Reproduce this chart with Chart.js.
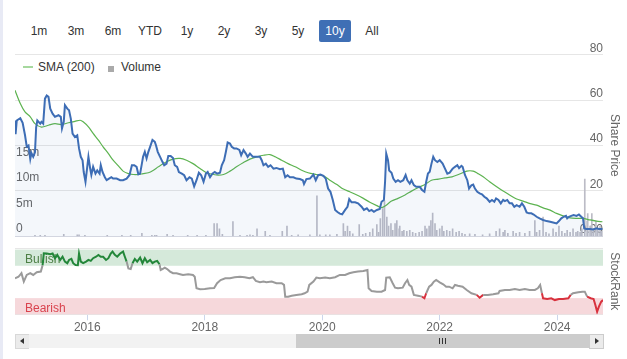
<!DOCTYPE html>
<html><head><meta charset="utf-8">
<script src="https://cdn.jsdelivr.net/npm/chart.js@4.4.1/dist/chart.umd.min.js"></script>
<style>
html,body{margin:0;padding:0;background:#fff;}
body{width:627px;height:359px;position:relative;overflow:hidden;font-family:"Liberation Sans",Arial,sans-serif;}
#strip{position:absolute;left:0;top:0;width:3px;height:359px;background:#e8eaf5;}
.btn{position:absolute;top:20px;width:32px;height:22px;line-height:23px;text-align:center;font-size:12px;color:#333;border-radius:2px;}
.btn.sel{background:#3f6fb5;color:#fff;}
.lg{position:absolute;font-size:12px;color:#333;line-height:14px;top:60px;white-space:nowrap;}
canvas{position:absolute;left:0;}
#c1{top:0;}
#c2{top:240px;}
.sb{position:absolute;}
</style></head>
<body>
<div id="strip"></div>
<div id="buttons"></div>
<div class="sb" style="left:15px;top:334px;width:588px;height:14px;background:#f2f2f2;"></div>
<div class="sb" style="left:296px;top:334px;width:293px;height:14px;background:#cccccc;"></div>
<div class="sb" style="left:439px;top:338px;width:1px;height:6px;background:#333;"></div>
<div class="sb" style="left:442px;top:338px;width:1px;height:6px;background:#333;"></div>
<div class="sb" style="left:445px;top:338px;width:1px;height:6px;background:#333;"></div>
<div class="sb" style="left:15px;top:334px;width:13px;height:13px;background:#ebebeb;border:1px solid #d8d8d8;border-right:none;"></div>
<div class="sb" style="left:20px;top:338px;width:0;height:0;border-top:3px solid transparent;border-bottom:3px solid transparent;border-right:4px solid #333;"></div>
<div class="sb" style="left:589px;top:334px;width:13px;height:13px;background:#ebebeb;border:1px solid #cccccc;"></div>
<div class="sb" style="left:595px;top:338px;width:0;height:0;border-top:3px solid transparent;border-bottom:3px solid transparent;border-left:4px solid #333;"></div>
<div class="sb" style="left:23px;top:66px;width:10px;height:2px;background:#a6d89e;"></div>
<div class="lg" style="left:38px;">SMA (200)</div>
<div class="sb" style="left:108px;top:66px;width:6px;height:6px;background:#aaaaaa;"></div>
<div class="lg" style="left:121px;">Volume</div>
<canvas id="c1" width="627" height="250"></canvas>
<canvas id="c2" width="627" height="119"></canvas>
<script>
// ---------------- DATA ----------------
const rangeButtons = ['1m','3m','6m','YTD','1y','2y','3y','5y','10y','All'];
const selectedButton = '10y';
const xRange = [2014.77, 2024.78];
const xTicks = [2016, 2018, 2020, 2022, 2024];
const priceTicks = [0, 20, 40, 60, 80];
const volumeTicks = [0, 5, 10, 15];   // millions
const rankTicks = [0, 102];
const bandRanges = [[75, 100], [0, 25]];
const bandLabels = ['Bullish', 'Bearish'];

const priceDates = [
2014.77,2014.78,2014.80,2014.86,2014.90,2014.94,2014.97,2015.00,2015.03,2015.05,
2015.08,2015.11,2015.13,2015.15,2015.20,2015.22,2015.25,2015.28,2015.31,2015.34,
2015.37,2015.41,2015.45,2015.51,2015.55,2015.57,2015.60,2015.62,2015.66,2015.69,
2015.72,2015.75,2015.79,2015.83,2015.86,2015.89,2015.92,2015.94,2015.97,2016.00,
2016.02,2016.05,2016.07,2016.10,2016.14,2016.17,2016.21,2016.23,2016.26,2016.30,
2016.33,2016.37,2016.41,2016.44,2016.50,2016.56,2016.61,2016.67,2016.72,2016.76,
2016.80,2016.84,2016.87,2016.90,2016.93,2016.95,2016.98,2017.01,2017.04,2017.07,
2017.11,2017.15,2017.17,2017.20,2017.24,2017.28,2017.31,2017.35,2017.38,2017.42,
2017.46,2017.49,2017.53,2017.56,2017.61,2017.65,2017.69,2017.74,2017.78,2017.82,
2017.86,2017.90,2017.94,2017.98,2018.02,2018.05,2018.09,2018.13,2018.17,2018.21,
2018.26,2018.29,2018.33,2018.36,2018.39,2018.43,2018.46,2018.50,2018.54,2018.59,
2018.62,2018.66,2018.70,2018.73,2018.77,2018.82,2018.89,2018.94,2018.97,2019.00,
2019.04,2019.08,2019.12,2019.17,2019.22,2019.28,2019.33,2019.37,2019.41,2019.45,
2019.51,2019.56,2019.62,2019.67,2019.69,2019.73,2019.79,2019.85,2019.89,2019.93,
2019.97,2020.02,2020.06,2020.10,2020.14,2020.18,2020.22,2020.26,2020.30,2020.34,
2020.39,2020.43,2020.46,2020.50,2020.56,2020.61,2020.67,2020.71,2020.76,2020.80,
2020.84,2020.88,2020.93,2020.98,2021.01,2021.05,2021.07,2021.09,2021.12,2021.14,
2021.18,2021.21,2021.25,2021.29,2021.33,2021.38,2021.42,2021.45,2021.49,2021.52,
2021.56,2021.60,2021.66,2021.70,2021.74,2021.77,2021.80,2021.83,2021.86,2021.89,
2021.92,2021.96,2022.00,2022.05,2022.09,2022.13,2022.17,2022.22,2022.26,2022.30,
2022.33,2022.37,2022.39,2022.43,2022.47,2022.50,2022.54,2022.57,2022.60,2022.64,
2022.68,2022.72,2022.76,2022.80,2022.85,2022.89,2022.93,2022.96,2023.00,2023.04,
2023.08,2023.11,2023.15,2023.19,2023.23,2023.27,2023.31,2023.36,2023.40,2023.44,
2023.48,2023.52,2023.56,2023.60,2023.65,2023.70,2023.76,2023.82,2023.88,2023.93,
2023.99,2024.03,2024.07,2024.11,2024.15,2024.17,2024.20,2024.24,2024.28,2024.33,
2024.37,2024.41,2024.44,2024.46,2024.50,2024.56,2024.61,2024.67,2024.71,2024.77];
const priceValues = [
51,45,51,52,50,44.6,39.5,40,34,36.6,
35,37,48,51,49.6,50.4,49.6,60.6,62,61.4,
56.2,54,52.6,53.3,52.6,47.5,50.4,57.7,56.2,55.5,
51.8,45.2,43.7,44.5,38.7,35,33.5,28.3,24,30.6,
35,29.8,27,30.6,27.6,29,27.6,31.3,28.3,26,
24.7,25.4,26,25.4,25.4,24.7,24.7,25.4,27,31.3,
31.3,30.6,27.3,27.6,32,35,37.2,34.3,37.2,39.4,
42.4,41.6,40.1,37.2,35,32.8,31.3,32,35.4,35.4,
34.5,31.3,30.6,28.3,27.6,26.9,24.7,26,25.4,22,
24.7,28,26.9,24,27.6,28.3,26,27.6,28.3,27.6,
28,31.3,33.5,37.2,41.3,40.8,39.4,38.7,38.7,38,
35.7,38,36.4,35,36.4,35,35,35,33.5,31.3,
32,30.6,31.3,29.8,30.1,29.5,29.8,26,26.9,26,
26,25.4,25.2,24.7,23,25.2,25.4,27.2,24.7,26.9,
27.2,26.6,25.4,21,19.6,16,11.6,10.7,10,9.7,
11.6,13,16.4,15,15,14.5,13,11.6,12.3,11.1,
11.6,10.8,11.6,12,15.2,16,24,36.4,33.5,29,
28,25.4,24,24.7,24,24.7,27,24.7,23.2,24.7,
22.5,21.8,21.8,20.4,19.6,24,27.6,28.4,32,35,
33.5,32.7,33.5,32,29.8,27.6,28,29.8,30.6,31.3,
30,31,30.6,27,24.7,21,22.5,22.8,21,19.6,
18.9,18.5,17.4,16.7,15.2,16,15.2,16.7,16,14.5,
16,15.5,16,14.5,14.5,13,13.7,13,14.5,13,
10.5,10.1,10.1,9.6,8.6,7.9,7.2,6.7,6.4,6.1,
5.7,6.7,7.9,8.6,9,7.9,8.6,9,9.4,9,
9.6,8.6,7.9,3.5,3.2,3.2,3,3.5,3.2,3.2];

const smaDates = [
2014.77,2014.86,2014.94,2015.03,2015.11,2015.22,2015.34,2015.45,2015.56,2015.68,
2015.79,2015.88,2015.93,2016.02,2016.10,2016.19,2016.27,2016.36,2016.44,2016.53,
2016.61,2016.70,2016.78,2016.87,2016.95,2017.04,2017.12,2017.21,2017.35,2017.46,
2017.58,2017.69,2017.80,2017.92,2018.03,2018.15,2018.23,2018.32,2018.43,2018.54,
2018.66,2018.77,2018.89,2019.00,2019.11,2019.20,2019.31,2019.42,2019.54,2019.65,
2019.76,2019.90,2020.02,2020.13,2020.25,2020.36,2020.47,2020.59,2020.70,2020.81,
2020.93,2021.01,2021.09,2021.18,2021.29,2021.41,2021.52,2021.63,2021.75,2021.86,
2021.98,2022.09,2022.21,2022.32,2022.46,2022.57,2022.65,2022.74,2022.85,2022.97,
2023.08,2023.19,2023.31,2023.42,2023.54,2023.65,2023.76,2023.88,2023.99,2024.10,
2024.22,2024.33,2024.44,2024.56,2024.67,2024.77];
const smaValues = [
64.3,58.5,54.8,52.6,49.6,48.1,48.9,49.6,49.2,50,
50.6,51.1,50.4,48.2,45.3,42.3,39.4,36.4,33.5,31,
28.7,27.6,27.2,27.2,27.6,28,29,30.6,32.8,34,
34.3,33.5,32,29.8,28,27.2,26.9,27.2,28.7,30.6,
32.5,34,35,35.7,36,35,33.5,32,30.6,29.1,
28,27.2,26.6,24.7,22.8,20.8,19.6,18.2,16.7,15,
13.5,12.6,13.7,15.5,16.7,18.2,19.9,21.4,22.8,24.7,
25.2,25.7,26.2,27.2,28.7,28.7,27.6,26.2,24,21.8,
19.9,18.2,16.4,15.5,14.4,13.7,12.5,11.5,10.1,9,
8.1,7.9,7.9,7.2,6.7,6.4];

const volumeDates = [
2015.11,2015.20,2015.28,2015.60,2015.83,2015.86,2015.96,2016.34,2016.59,2016.74,
2016.93,2017.10,2017.15,2017.18,2017.36,2017.46,2017.71,2017.87,2018.02,2018.16,
2018.21,2018.25,2018.30,2018.48,2018.60,2018.72,2018.77,2018.82,2018.89,2019.03,
2019.11,2019.32,2019.40,2019.48,2019.59,2019.79,2019.91,2019.96,2020.06,2020.13,
2020.25,2020.36,2020.39,2020.43,2020.47,2020.52,2020.63,2020.69,2020.74,2020.81,
2020.86,2020.93,2020.96,2020.99,2021.03,2021.06,2021.10,2021.13,2021.17,2021.20,
2021.24,2021.27,2021.31,2021.32,2021.36,2021.39,2021.44,2021.49,2021.54,2021.59,
2021.65,2021.70,2021.75,2021.78,2021.82,2021.85,2021.88,2021.92,2021.95,2022.00,
2022.04,2022.07,2022.12,2022.17,2022.22,2022.28,2022.33,2022.38,2022.43,2022.51,
2022.60,2022.73,2022.85,2022.96,2023.02,2023.08,2023.11,2023.16,2023.25,2023.30,
2023.36,2023.45,2023.53,2023.62,2023.65,2023.70,2023.76,2023.81,2023.86,2023.93,
2023.98,2024.03,2024.08,2024.13,2024.17,2024.22,2024.27,2024.32,2024.35,2024.39,
2024.42,2024.47,2024.51,2024.52,2024.56,2024.59,2024.62,2024.66,2024.69,2024.73,
2024.76];
const volumeValues = [   // millions
0.2,0.2,0.2,0.4,0.3,0.3,0.2,0.2,0.2,0.2,
0.6,0.2,0.2,0.2,0.4,0.2,0.2,0.2,0.2,2.5,
2.5,1.5,0.4,2.9,0.2,0.2,0.3,0.2,1.5,1.0,
0.2,1.0,2.0,0.2,0.3,0.3,8.0,0.3,0.3,0.3,
0.4,2.5,1.0,2.0,1.0,0.5,2.3,0.4,0.6,0.8,
1.5,2.3,0.8,3.5,5.5,7.0,3.8,2.0,2.5,1.2,
2.5,3.1,1.5,2.0,1.0,1.2,1.0,1.2,0.8,0.6,
0.8,1.0,2.0,1.5,2.0,3.1,4.6,2.5,1.2,1.5,
2.0,1.0,1.2,1.0,1.5,0.8,1.0,0.6,0.4,0.5,
0.4,0.3,0.5,1.0,1.5,0.8,1.2,0.6,1.0,0.6,
0.8,0.6,1.0,3.1,0.8,1.2,3.8,0.8,0.5,1.5,
0.8,2.0,1.0,0.6,1.2,0.8,1.5,0.8,1.0,0.8,
1.5,11.3,3.0,4.5,2.0,4.5,1.5,3.0,1.5,2.0,
1.0];

const rankDates = [
2014.77,2014.83,2014.88,2014.92,2014.97,2015.03,2015.08,2015.14,2015.21,2015.24,
2015.26,2015.31,2015.37,2015.41,2015.45,2015.49,2015.54,2015.58,2015.62,2015.66,
2015.69,2015.73,2015.76,2015.80,2015.84,2015.86,2015.89,2015.93,2015.98,2016.02,
2016.06,2016.10,2016.15,2016.19,2016.23,2016.27,2016.32,2016.36,2016.40,2016.43,
2016.47,2016.51,2016.56,2016.61,2016.64,2016.67,2016.70,2016.74,2016.77,2016.81,
2016.85,2016.90,2016.94,2016.98,2017.02,2017.07,2017.11,2017.15,2017.19,2017.23,
2017.25,2017.28,2017.32,2017.36,2017.41,2017.46,2017.52,2017.58,2017.63,2017.72,
2017.80,2017.83,2017.86,2017.92,2018.00,2018.09,2018.16,2018.21,2018.27,2018.35,
2018.43,2018.51,2018.60,2018.68,2018.76,2018.82,2018.87,2018.94,2019.00,2019.05,
2019.14,2019.22,2019.31,2019.35,2019.37,2019.42,2019.48,2019.56,2019.65,2019.70,
2019.75,2019.78,2019.85,2019.90,2019.96,2020.05,2020.13,2020.22,2020.30,2020.39,
2020.46,2020.53,2020.61,2020.70,2020.77,2020.79,2020.84,2020.93,2021.01,2021.07,
2021.09,2021.15,2021.20,2021.24,2021.29,2021.37,2021.41,2021.45,2021.48,2021.52,
2021.56,2021.63,2021.70,2021.74,2021.77,2021.82,2021.86,2021.90,2021.94,2022.00,
2022.06,2022.11,2022.16,2022.22,2022.26,2022.31,2022.39,2022.46,2022.54,2022.63,
2022.68,2022.74,2022.82,2022.91,2023.00,2023.02,2023.11,2023.19,2023.28,2023.36,
2023.45,2023.53,2023.62,2023.67,2023.71,2023.74,2023.76,2023.83,2023.90,2023.96,
2024.03,2024.10,2024.19,2024.23,2024.27,2024.36,2024.43,2024.47,2024.51,2024.57,
2024.62,2024.65,2024.68,2024.71,2024.75,2024.78];
const rankValues = [
55.7,58,63.5,50.5,60.8,63.5,60.8,65,66,76,
94.4,94,93,94,86.7,91.8,84,89,81.5,79,
84,85.6,79,76.3,76,94,81.5,79,81.5,84,
82.5,86.7,89,91.8,89,89,84,86.7,94,96.9,
91.8,89,94,96.9,89,81.5,71,70,79,85.6,
81.5,87.6,79,86.7,80.5,84,79,81.5,82.5,77.4,
68.6,70,72,70,66,63.5,63.5,62,60.8,62,
60.8,58,40.2,38.7,39,40.2,40.7,48,53,55.7,
55.7,57.3,58,57.3,55.7,57.3,51.5,49.5,50.5,49.5,
50.5,48,48,45.4,27.3,27.3,28.8,29.9,31,32.5,
35,45.4,50.5,56.7,55.7,56.7,55.7,57.3,60.8,60.8,
63.5,65,66,67,68.6,40.2,36,35,35,37.6,
56.7,57.3,48,41.2,40.2,41.2,48,53,45.4,42.7,
30,28.8,27.3,24.8,32.5,42.7,45.4,50.5,53,49.5,
46.4,42.7,42.7,40.2,45.4,44,42.7,37.6,32.5,30,
25.7,30,30,31,32.5,36,37.6,37.6,39.2,37.6,
39.2,37.6,37.6,40.2,45.4,32.5,24.8,23.7,24.8,22,
23.7,23.7,24.8,30,32.5,34,35,35,27.3,24.8,
23.7,14.4,4,11.8,19.5,22];

// ---------------- STYLE ----------------
const FONT = '"Liberation Sans", Arial, sans-serif';
Chart.defaults.font.family = FONT;
const axisColor = '#666666';
const gridColor = '#e6e6e6';
const bandColors = ['#d5e9da', '#f6d8db'];
const bandTextColors = ['#4d7f45', '#d9434e'];
const rankGreen = '#23873a', rankGray = '#9a9a9a', rankRed = '#d8313d';

// buttons
const bwrap = document.getElementById('buttons');
rangeButtons.forEach((t, i) => {
  const d = document.createElement('div');
  d.className = 'btn' + (t === selectedButton ? ' sel' : '');
  d.style.left = (23 + 37 * i) + 'px';
  d.textContent = t;
  bwrap.appendChild(d);
});

const pts = (xs, ys) => xs.map((x, i) => ({x: x, y: ys[i]}));
const fixTicks = arr => (s => { s.ticks = arr.map(v => ({value: v})); });

new Chart(document.getElementById('c1'), {
  type: 'line',
  data: {datasets: [
    {label: 'Price', data: pts(priceDates, priceValues), yAxisID: 'price', borderColor: '#3d6db5', borderWidth: 2,
     pointRadius: 0, tension: 0, fill: 'origin', backgroundColor: 'rgba(69,114,181,0.06)', order: 0},
    {label: 'SMA (200)', data: pts(smaDates, smaValues), yAxisID: 'price', borderColor: '#5db350', borderWidth: 1.2,
     pointRadius: 0, tension: 0.3, fill: false, order: 1},
    {type: 'bar', label: 'Volume', data: pts(volumeDates, volumeValues), yAxisID: 'vol', backgroundColor: '#bcbcc6',
     barThickness: 1, order: 2}
  ]},
  options: {
    responsive: false, animation: false, events: [],
    layout: {padding: {top: 54.6, bottom: 13.7, left: 15, right: 0}},
    plugins: {legend: {display: false}, tooltip: {enabled: false}},
    scales: {
      x: {type: 'linear', display: false, min: xRange[0], max: xRange[1], offset: false},
      price: {position: 'right', min: 0, max: 80, afterFit: s => { s.width = 24; }, afterBuildTicks: fixTicks(priceTicks),
        ticks: {mirror: true, padding: 0, labelOffset: -6.3, color: axisColor, font: {size: 12},
          callback: v => v === 0 ? '0.00' : String(v)},
        grid: {color: c => c.tick && c.tick.value === 0 ? '#d3d6e0' : gridColor, drawTicks: false},
        border: {display: false},
        title: {display: true, text: 'Share Price', color: axisColor, font: {size: 12}, padding: {top: 5.8, bottom: 0}}},
      vol: {position: 'left', min: 0, max: 35.9, afterFit: s => { s.width = 0; }, afterBuildTicks: fixTicks(volumeTicks),
        ticks: {mirror: true, padding: 1, labelOffset: -7.8, color: axisColor, font: {size: 12},
          callback: v => v === 0 ? '0' : v + 'm'},
        grid: {display: false}, border: {display: false}}
    }
  }
});

const bandPlugin = {
  id: 'bands',
  beforeDatasetsDraw(chart) {
    const {ctx, chartArea: a} = chart;
    const s = chart.scales.rank;
    ctx.save();
    bandRanges.forEach((r, i) => {
      const y1 = s.getPixelForValue(r[1]), y2 = s.getPixelForValue(r[0]);
      ctx.fillStyle = bandColors[i];
      ctx.fillRect(a.left, y1, a.right - a.left, y2 - y1);
      ctx.fillStyle = bandTextColors[i];
      ctx.font = '12px ' + FONT;
      ctx.textBaseline = 'middle';
      ctx.textAlign = 'left';
      ctx.fillText(bandLabels[i], a.left + 10, (y1 + y2) / 2 + 2);
    });
    ctx.restore();
  }
};

function segColor(a, b) {
  if (Math.min(a, b) >= 74) return rankGreen;
  if (Math.min(a, b) <= 26 && Math.max(a, b) <= 33) return rankRed;
  return rankGray;
}

new Chart(document.getElementById('c2'), {
  type: 'line',
  data: {datasets: [{label: 'StockRank', data: pts(rankDates, rankValues), yAxisID: 'rank', borderWidth: 2,
    pointRadius: 0, tension: 0, borderColor: rankGray, fill: false,
    segment: {borderColor: c => segColor(c.p0.parsed.y, c.p1.parsed.y)}}]},
  options: {
    responsive: false, animation: false, events: [],
    layout: {padding: {top: 8.3, bottom: 24.7, left: 15, right: 0}},
    plugins: {legend: {display: false}, tooltip: {enabled: false}},
    scales: {
      x: {type: 'linear', min: xRange[0], max: xRange[1], offset: false, afterBuildTicks: fixTicks(xTicks),
        afterFit: s => { s.height = 20; },
        ticks: {padding: 0.5, color: axisColor, font: {size: 12}, maxRotation: 0, autoSkip: false, callback: v => String(v)},
        grid: {drawOnChartArea: false, drawTicks: true, tickLength: 6, color: '#ccd6eb'},
        border: {display: false}},
      rank: {position: 'right', min: 0, max: 102, afterFit: s => { s.width = 24; }, afterBuildTicks: fixTicks(rankTicks),
        ticks: {mirror: true, padding: 0, labelOffset: -5, color: axisColor, font: {size: 12},
          callback: v => v === 0 ? '0' : ''},
        grid: {color: gridColor, drawTicks: false}, border: {display: false},
        title: {display: true, text: 'StockRank', color: axisColor, font: {size: 12}, padding: {top: 5.8, bottom: 0}}}
    }
  },
  plugins: [bandPlugin]
});
</script>
</body></html>
